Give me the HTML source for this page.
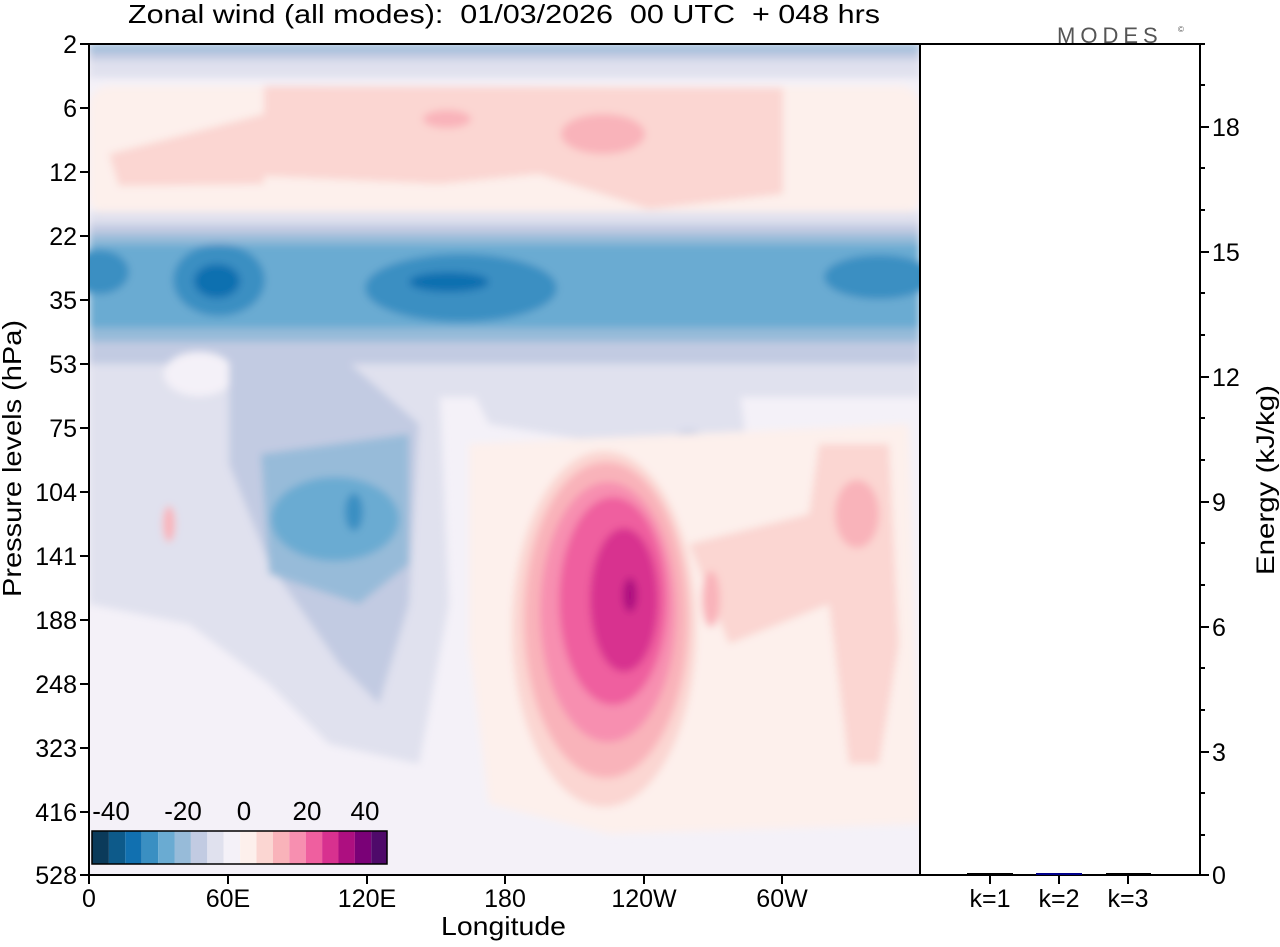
<!DOCTYPE html>
<html><head><meta charset="utf-8"><style>
body{margin:0;background:#fff;width:1280px;height:942px;overflow:hidden;font-family:"Liberation Sans",sans-serif}
text{white-space:pre}
</style></head><body>
<svg width="1280" height="942" viewBox="0 0 1280 942" xmlns="http://www.w3.org/2000/svg" font-family="Liberation Sans, sans-serif" xml:space="preserve">
<defs>
<filter id="b" x="-20%" y="-20%" width="140%" height="140%"><feGaussianBlur stdDeviation="4"/></filter>
<clipPath id="c"><rect x="0" y="0" width="831" height="831"/></clipPath>
</defs>
<text x="128" y="23" font-size="26" textLength="752" lengthAdjust="spacingAndGlyphs">Zonal wind (all modes):  01/03/2026  00 UTC  + 048 hrs</text>
<text x="1057" y="43" font-size="22" fill="#555" letter-spacing="5">MODES</text>
<text x="1178" y="32" font-size="8" fill="#555">©</text>
<g transform="translate(89,44)" clip-path="url(#c)">
<rect width="831" height="831" fill="#f4f1f8"/>
<g filter="url(#b)">
<rect x="0" y="0" width="831" height="18" fill="#c2cbe2"/>
<rect x="0" y="0" width="831" height="7" fill="#97bbd9"/>
<rect x="0" y="16" width="831" height="18" fill="#e0e1ee"/>
<rect x="0" y="42" width="831" height="130" rx="20" fill="#fdf0ec"/>
<path d="M175,42 L694,44 L694,150 L560,165 L450,130 L350,140 L175,132 Z" fill="#fbd6d2"/>
<path d="M20,110 L175,70 L175,140 L30,142 Z" fill="#fbd6d2"/>
<ellipse cx="514" cy="90" rx="42" ry="20" fill="#f9b3ba"/>
<ellipse cx="358" cy="75" rx="24" ry="9" fill="#f9b3ba"/>
<rect x="0" y="168" width="831" height="185" fill="#e0e1ee"/>
<rect x="0" y="180" width="831" height="140" fill="#c2cbe2"/>
<rect x="0" y="190" width="831" height="108" fill="#97bbd9"/>
<rect x="0" y="200" width="831" height="84" fill="#6aabd2"/>
<ellipse cx="130" cy="236" rx="46" ry="36" fill="#3a8fc2"/>
<ellipse cx="372" cy="244" rx="96" ry="34" fill="#3a8fc2"/>
<ellipse cx="790" cy="233" rx="55" ry="22" fill="#3a8fc2"/>
<ellipse cx="10" cy="228" rx="30" ry="22" fill="#3a8fc2"/>
<ellipse cx="128" cy="237" rx="23" ry="17" fill="#1170b0"/>
<ellipse cx="360" cy="238" rx="40" ry="10" fill="#1170b0"/>
<path d="M0,330 L350,330 L360,560 L330,720 L240,700 L180,640 L100,580 L0,560 Z" fill="#e0e1ee"/>
<path d="M380,340 L650,340 L660,420 L600,410 L520,400 L400,380 Z" fill="#e0e1ee"/>
<ellipse cx="110" cy="330" rx="35" ry="22" fill="#f4f1f8"/>
<path d="M140,300 L250,310 L330,380 L320,560 L290,660 L250,620 L180,520 L140,420 Z" fill="#c2cbe2"/>
<path d="M172,410 L320,390 L320,520 L270,560 L180,530 Z" fill="#97bbd9"/>
<ellipse cx="246" cy="475" rx="64" ry="42" fill="#6aabd2"/>
<ellipse cx="265" cy="468" rx="9" ry="19" fill="#3a8fc2"/>
<ellipse cx="600" cy="400" rx="18" ry="14" fill="#c2cbe2"/>
<path d="M380,400 L820,380 L831,780 L520,790 L400,760 L380,600 Z" fill="#fdf0ec"/>
<ellipse cx="515" cy="585" rx="92" ry="178" fill="#fbd6d2"/>
<path d="M600,500 L720,470 L730,400 L800,400 L810,600 L790,720 L760,720 L740,560 L640,600 Z" fill="#fbd6d2"/>
<ellipse cx="517" cy="576" rx="82" ry="158" fill="#f9b3ba"/>
<ellipse cx="519" cy="568" rx="68" ry="130" fill="#f78fb0"/>
<ellipse cx="524" cy="557" rx="54" ry="104" fill="#ef5f9f"/>
<ellipse cx="535" cy="556" rx="34" ry="72" fill="#d8318f"/>
<ellipse cx="541" cy="551" rx="7" ry="17" fill="#ad0f80"/>
<ellipse cx="768" cy="470" rx="22" ry="34" fill="#f9b3ba"/>
<ellipse cx="622" cy="555" rx="9" ry="28" fill="#f9b3ba"/>
<ellipse cx="80" cy="480" rx="6" ry="18" fill="#f9b3ba"/>
</g>
</g>
<rect x="89" y="44" width="831" height="831" fill="none" stroke="#000" stroke-width="2"/>
<rect x="920" y="44" width="280" height="831" fill="none" stroke="#000" stroke-width="2"/>
<g stroke="#000" stroke-width="2">
<line x1="967" y1="874" x2="1013" y2="874"/>
<line x1="1106" y1="874" x2="1151" y2="874"/>
<line x1="1036" y1="874" x2="1082" y2="874" stroke="#00008b"/>
</g>
<rect x="92" y="831" width="295" height="33" fill="#fff"/>
<g>
<rect x="92.5" y="831.5" width="16.4" height="32" fill="#0b3a5a"/><rect x="108.9" y="831.5" width="16.4" height="32" fill="#0d5a8a"/><rect x="125.3" y="831.5" width="16.4" height="32" fill="#1170b0"/><rect x="141.7" y="831.5" width="16.4" height="32" fill="#3a8fc2"/><rect x="158.1" y="831.5" width="16.4" height="32" fill="#6aabd2"/><rect x="174.5" y="831.5" width="16.4" height="32" fill="#97bbd9"/><rect x="190.9" y="831.5" width="16.4" height="32" fill="#c2cbe2"/><rect x="207.3" y="831.5" width="16.4" height="32" fill="#e0e1ee"/><rect x="223.7" y="831.5" width="16.4" height="32" fill="#f4f1f8"/><rect x="240.1" y="831.5" width="16.4" height="32" fill="#fdf0ec"/><rect x="256.5" y="831.5" width="16.4" height="32" fill="#fbd6d2"/><rect x="272.9" y="831.5" width="16.4" height="32" fill="#f9b3ba"/><rect x="289.3" y="831.5" width="16.4" height="32" fill="#f78fb0"/><rect x="305.7" y="831.5" width="16.4" height="32" fill="#ef5f9f"/><rect x="322.1" y="831.5" width="16.4" height="32" fill="#d8318f"/><rect x="338.5" y="831.5" width="16.4" height="32" fill="#ad0f80"/><rect x="354.9" y="831.5" width="16.4" height="32" fill="#7a0177"/><rect x="371.3" y="831.5" width="15.7" height="32" fill="#4f0a6a"/>
<rect x="92" y="831" width="295" height="33" fill="none" stroke="#000" stroke-width="1.5"/>
</g>
<g font-size="26" text-anchor="middle">
<text x="111" y="820">-40</text><text x="183" y="820">-20</text><text x="244" y="820">0</text><text x="307" y="820">20</text><text x="365" y="820">40</text>
</g>
<g stroke="#000" stroke-width="2">
<line x1="80" y1="44" x2="89" y2="44"/><line x1="80" y1="108" x2="89" y2="108"/><line x1="80" y1="172" x2="89" y2="172"/><line x1="80" y1="236" x2="89" y2="236"/><line x1="80" y1="300" x2="89" y2="300"/><line x1="80" y1="364" x2="89" y2="364"/><line x1="80" y1="428" x2="89" y2="428"/><line x1="80" y1="492" x2="89" y2="492"/><line x1="80" y1="556" x2="89" y2="556"/><line x1="80" y1="620" x2="89" y2="620"/><line x1="80" y1="684" x2="89" y2="684"/><line x1="80" y1="748" x2="89" y2="748"/><line x1="80" y1="812" x2="89" y2="812"/><line x1="80" y1="875" x2="89" y2="875"/>
<line x1="89" y1="875" x2="89" y2="884"/><line x1="228" y1="875" x2="228" y2="884"/><line x1="367" y1="875" x2="367" y2="884"/><line x1="505" y1="875" x2="505" y2="884"/><line x1="644" y1="875" x2="644" y2="884"/><line x1="782" y1="875" x2="782" y2="884"/>
<line x1="990" y1="875" x2="990" y2="884"/><line x1="1059" y1="875" x2="1059" y2="884"/><line x1="1128" y1="875" x2="1128" y2="884"/>
<line x1="1200" y1="875" x2="1209" y2="875"/><line x1="1200" y1="752" x2="1209" y2="752"/><line x1="1200" y1="627" x2="1209" y2="627"/><line x1="1200" y1="502" x2="1209" y2="502"/><line x1="1200" y1="377" x2="1209" y2="377"/><line x1="1200" y1="252" x2="1209" y2="252"/><line x1="1200" y1="127" x2="1209" y2="127"/>
<line x1="1200" y1="44" x2="1205" y2="44"/><line x1="1200" y1="85" x2="1205" y2="85"/><line x1="1200" y1="168" x2="1205" y2="168"/><line x1="1200" y1="210" x2="1205" y2="210"/><line x1="1200" y1="293" x2="1205" y2="293"/><line x1="1200" y1="335" x2="1205" y2="335"/><line x1="1200" y1="418" x2="1205" y2="418"/><line x1="1200" y1="460" x2="1205" y2="460"/><line x1="1200" y1="543" x2="1205" y2="543"/><line x1="1200" y1="585" x2="1205" y2="585"/><line x1="1200" y1="668" x2="1205" y2="668"/><line x1="1200" y1="710" x2="1205" y2="710"/><line x1="1200" y1="793" x2="1205" y2="793"/><line x1="1200" y1="835" x2="1205" y2="835"/>
</g>
<g font-size="25" text-anchor="end">
<text x="77" y="53">2</text><text x="77" y="117">6</text><text x="77" y="181">12</text><text x="77" y="245">22</text><text x="77" y="309">35</text><text x="77" y="373">53</text><text x="77" y="437">75</text><text x="77" y="501">104</text><text x="77" y="565">141</text><text x="77" y="629">188</text><text x="77" y="693">248</text><text x="77" y="757">323</text><text x="77" y="821">416</text><text x="77" y="884">528</text>
</g>
<g font-size="25" text-anchor="middle">
<text x="89" y="907">0</text><text x="228" y="907">60E</text><text x="367" y="907">120E</text><text x="505" y="907">180</text><text x="644" y="907">120W</text><text x="782" y="907">60W</text>
<text x="990" y="907">k=1</text><text x="1059" y="907">k=2</text><text x="1128" y="907">k=3</text>
</g>
<text x="441" y="935" font-size="26" textLength="125" lengthAdjust="spacingAndGlyphs">Longitude</text>
<g font-size="25">
<text x="1212" y="884">0</text><text x="1212" y="761">3</text><text x="1212" y="636">6</text><text x="1212" y="511">9</text><text x="1212" y="386">12</text><text x="1212" y="261">15</text><text x="1212" y="136">18</text>
</g>
<text transform="translate(21,597) rotate(-90)" font-size="26" textLength="277" lengthAdjust="spacingAndGlyphs">Pressure levels (hPa)</text>
<text transform="translate(1274,575) rotate(-90)" font-size="25" textLength="190" lengthAdjust="spacingAndGlyphs">Energy (kJ/kg)</text>
</svg>
</body></html>
